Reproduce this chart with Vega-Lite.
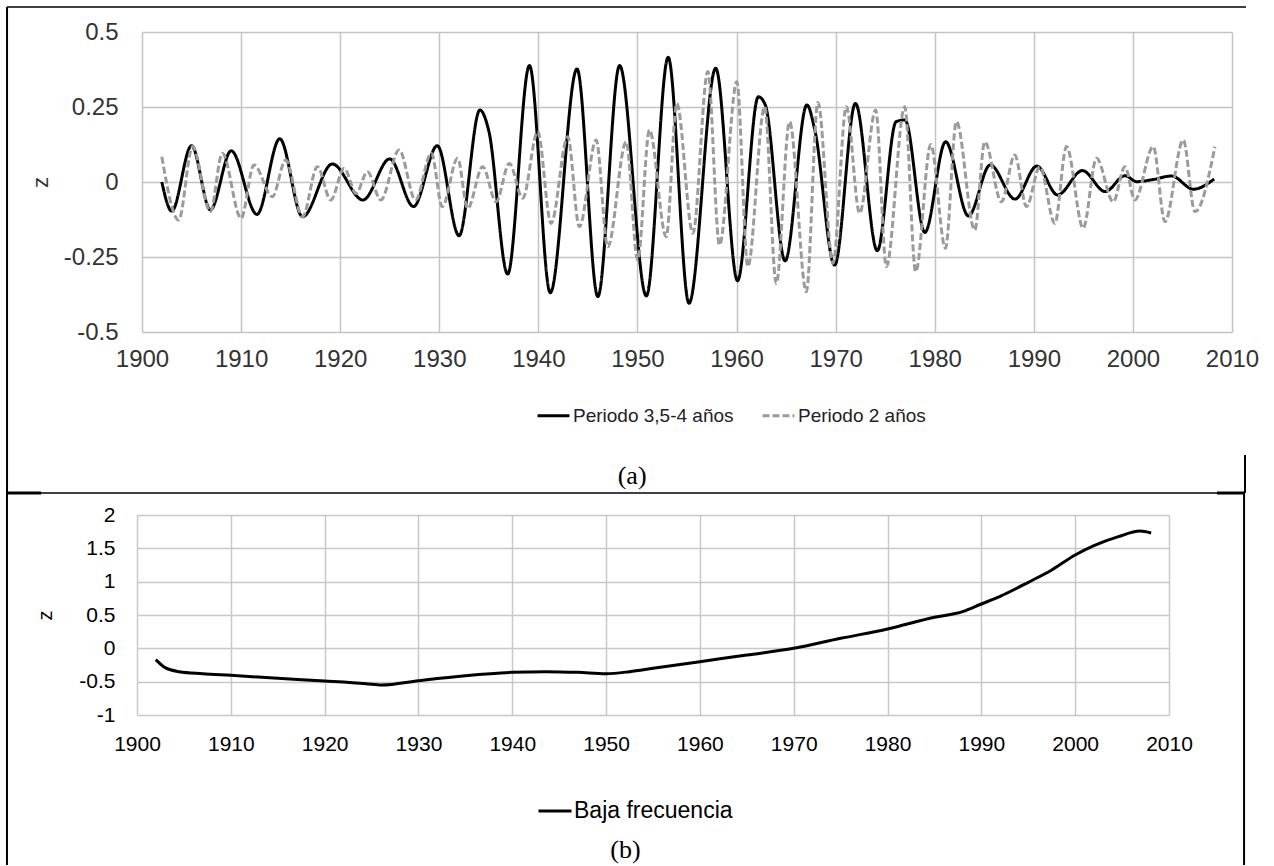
{
  "$schema": "https://vega.github.io/schema/vega-lite/v6.json",
  "background": "white",
  "padding": {"left": 5, "top": 6, "right": 5, "bottom": 0},
  "columns": 1,
  "align": "none",
  "spacing": -4,
  "config": {"view": {"stroke": null}, "font": "Liberation Sans"},
  "resolve": {
    "scale": {"x": "independent", "y": "independent", "color": "independent", "strokeDash": "independent"},
    "legend": {"color": "independent", "strokeDash": "independent"}
  },
  "datasets": {
    "osc": [
      {"year": 1902.0, "z": 0.0, "serie": "Periodo 3,5-4 años"},
      {"year": 1903.0, "z": -0.097, "serie": "Periodo 3,5-4 años"},
      {"year": 1905.0, "z": 0.121, "serie": "Periodo 3,5-4 años"},
      {"year": 1906.9, "z": -0.093, "serie": "Periodo 3,5-4 años"},
      {"year": 1909.0, "z": 0.104, "serie": "Periodo 3,5-4 años"},
      {"year": 1911.6, "z": -0.108, "serie": "Periodo 3,5-4 años"},
      {"year": 1913.9, "z": 0.144, "serie": "Periodo 3,5-4 años"},
      {"year": 1916.2, "z": -0.116, "serie": "Periodo 3,5-4 años"},
      {"year": 1919.2, "z": 0.06, "serie": "Periodo 3,5-4 años"},
      {"year": 1922.3, "z": -0.06, "serie": "Periodo 3,5-4 años"},
      {"year": 1925.0, "z": 0.077, "serie": "Periodo 3,5-4 años"},
      {"year": 1927.4, "z": -0.082, "serie": "Periodo 3,5-4 años"},
      {"year": 1929.8, "z": 0.121, "serie": "Periodo 3,5-4 años"},
      {"year": 1932.0, "z": -0.179, "serie": "Periodo 3,5-4 años"},
      {"year": 1934.1, "z": 0.24, "serie": "Periodo 3,5-4 años"},
      {"year": 1935.0, "z": 0.17, "serie": "Periodo 3,5-4 años"},
      {"year": 1936.9, "z": -0.307, "serie": "Periodo 3,5-4 años"},
      {"year": 1939.1, "z": 0.388, "serie": "Periodo 3,5-4 años"},
      {"year": 1941.2, "z": -0.369, "serie": "Periodo 3,5-4 años"},
      {"year": 1943.9, "z": 0.377, "serie": "Periodo 3,5-4 años"},
      {"year": 1946.0, "z": -0.382, "serie": "Periodo 3,5-4 años"},
      {"year": 1948.2, "z": 0.388, "serie": "Periodo 3,5-4 años"},
      {"year": 1950.9, "z": -0.38, "serie": "Periodo 3,5-4 años"},
      {"year": 1953.1, "z": 0.416, "serie": "Periodo 3,5-4 años"},
      {"year": 1955.2, "z": -0.404, "serie": "Periodo 3,5-4 años"},
      {"year": 1957.9, "z": 0.379, "serie": "Periodo 3,5-4 años"},
      {"year": 1960.1, "z": -0.329, "serie": "Periodo 3,5-4 años"},
      {"year": 1962.2, "z": 0.284, "serie": "Periodo 3,5-4 años"},
      {"year": 1962.9, "z": 0.257, "serie": "Periodo 3,5-4 años"},
      {"year": 1964.9, "z": -0.263, "serie": "Periodo 3,5-4 años"},
      {"year": 1967.1, "z": 0.257, "serie": "Periodo 3,5-4 años"},
      {"year": 1967.9, "z": 0.173, "serie": "Periodo 3,5-4 años"},
      {"year": 1969.9, "z": -0.277, "serie": "Periodo 3,5-4 años"},
      {"year": 1972.0, "z": 0.262, "serie": "Periodo 3,5-4 años"},
      {"year": 1974.2, "z": -0.229, "serie": "Periodo 3,5-4 años"},
      {"year": 1976.1, "z": 0.201, "serie": "Periodo 3,5-4 años"},
      {"year": 1977.0, "z": 0.207, "serie": "Periodo 3,5-4 años"},
      {"year": 1979.0, "z": -0.168, "serie": "Periodo 3,5-4 años"},
      {"year": 1981.1, "z": 0.134, "serie": "Periodo 3,5-4 años"},
      {"year": 1983.4, "z": -0.113, "serie": "Periodo 3,5-4 años"},
      {"year": 1985.6, "z": 0.057, "serie": "Periodo 3,5-4 años"},
      {"year": 1988.1, "z": -0.057, "serie": "Periodo 3,5-4 años"},
      {"year": 1990.3, "z": 0.053, "serie": "Periodo 3,5-4 años"},
      {"year": 1992.4, "z": -0.043, "serie": "Periodo 3,5-4 años"},
      {"year": 1994.9, "z": 0.038, "serie": "Periodo 3,5-4 años"},
      {"year": 1997.2, "z": -0.032, "serie": "Periodo 3,5-4 años"},
      {"year": 1999.2, "z": 0.021, "serie": "Periodo 3,5-4 años"},
      {"year": 2000.4, "z": 0.001, "serie": "Periodo 3,5-4 años"},
      {"year": 2002.0, "z": 0.008, "serie": "Periodo 3,5-4 años"},
      {"year": 2003.9, "z": 0.02, "serie": "Periodo 3,5-4 años"},
      {"year": 2006.1, "z": -0.024, "serie": "Periodo 3,5-4 años"},
      {"year": 2008.2, "z": 0.01, "serie": "Periodo 3,5-4 años"},

      {"year": 1902.0, "z": 0.084, "serie": "Periodo 2 años"},
      {"year": 1903.7, "z": -0.127, "serie": "Periodo 2 años"},
      {"year": 1905.1, "z": 0.118, "serie": "Periodo 2 años"},
      {"year": 1906.9, "z": -0.099, "serie": "Periodo 2 años"},
      {"year": 1908.1, "z": 0.096, "serie": "Periodo 2 años"},
      {"year": 1910.0, "z": -0.121, "serie": "Periodo 2 años"},
      {"year": 1911.3, "z": 0.057, "serie": "Periodo 2 años"},
      {"year": 1913.15, "z": -0.049, "serie": "Periodo 2 años"},
      {"year": 1914.5, "z": 0.073, "serie": "Periodo 2 años"},
      {"year": 1916.2, "z": -0.116, "serie": "Periodo 2 años"},
      {"year": 1917.7, "z": 0.051, "serie": "Periodo 2 años"},
      {"year": 1919.05, "z": -0.06, "serie": "Periodo 2 años"},
      {"year": 1920.4, "z": 0.046, "serie": "Periodo 2 años"},
      {"year": 1921.6, "z": -0.038, "serie": "Periodo 2 años"},
      {"year": 1922.75, "z": 0.034, "serie": "Periodo 2 años"},
      {"year": 1924.1, "z": -0.06, "serie": "Periodo 2 años"},
      {"year": 1925.95, "z": 0.107, "serie": "Periodo 2 años"},
      {"year": 1927.6, "z": -0.06, "serie": "Periodo 2 años"},
      {"year": 1929.2, "z": 0.096, "serie": "Periodo 2 años"},
      {"year": 1930.3, "z": -0.082, "serie": "Periodo 2 años"},
      {"year": 1931.85, "z": 0.079, "serie": "Periodo 2 años"},
      {"year": 1932.86, "z": -0.088, "serie": "Periodo 2 años"},
      {"year": 1934.38, "z": 0.051, "serie": "Periodo 2 años"},
      {"year": 1935.73, "z": -0.066, "serie": "Periodo 2 años"},
      {"year": 1937.07, "z": 0.062, "serie": "Periodo 2 años"},
      {"year": 1938.42, "z": -0.054, "serie": "Periodo 2 años"},
      {"year": 1939.93, "z": 0.168, "serie": "Periodo 2 años"},
      {"year": 1941.28, "z": -0.138, "serie": "Periodo 2 años"},
      {"year": 1942.96, "z": 0.151, "serie": "Periodo 2 años"},
      {"year": 1944.14, "z": -0.149, "serie": "Periodo 2 años"},
      {"year": 1945.83, "z": 0.14, "serie": "Periodo 2 años"},
      {"year": 1947.0, "z": -0.216, "serie": "Periodo 2 años"},
      {"year": 1948.86, "z": 0.134, "serie": "Periodo 2 años"},
      {"year": 1950.03, "z": -0.26, "serie": "Periodo 2 años"},
      {"year": 1951.21, "z": 0.173, "serie": "Periodo 2 años"},
      {"year": 1952.9, "z": -0.182, "serie": "Periodo 2 años"},
      {"year": 1953.97, "z": 0.262, "serie": "Periodo 2 años"},
      {"year": 1955.59, "z": -0.171, "serie": "Periodo 2 años"},
      {"year": 1957.1, "z": 0.368, "serie": "Periodo 2 años"},
      {"year": 1958.28, "z": -0.21, "serie": "Periodo 2 años"},
      {"year": 1960.03, "z": 0.334, "serie": "Periodo 2 años"},
      {"year": 1961.14, "z": -0.282, "serie": "Periodo 2 años"},
      {"year": 1962.83, "z": 0.251, "serie": "Periodo 2 años"},
      {"year": 1964.01, "z": -0.338, "serie": "Periodo 2 años"},
      {"year": 1965.35, "z": 0.201, "serie": "Periodo 2 años"},
      {"year": 1967.04, "z": -0.366, "serie": "Periodo 2 años"},
      {"year": 1968.21, "z": 0.265, "serie": "Periodo 2 años"},
      {"year": 1969.73, "z": -0.271, "serie": "Periodo 2 años"},
      {"year": 1971.08, "z": 0.251, "serie": "Periodo 2 años"},
      {"year": 1972.42, "z": -0.104, "serie": "Periodo 2 años"},
      {"year": 1974.04, "z": 0.24, "serie": "Periodo 2 años"},
      {"year": 1975.12, "z": -0.282, "serie": "Periodo 2 años"},
      {"year": 1976.97, "z": 0.251, "serie": "Periodo 2 años"},
      {"year": 1978.08, "z": -0.299, "serie": "Periodo 2 años"},
      {"year": 1979.6, "z": 0.125, "serie": "Periodo 2 años"},
      {"year": 1981.08, "z": -0.221, "serie": "Periodo 2 años"},
      {"year": 1982.19, "z": 0.201, "serie": "Periodo 2 años"},
      {"year": 1984.04, "z": -0.16, "serie": "Periodo 2 años"},
      {"year": 1985.05, "z": 0.134, "serie": "Periodo 2 años"},
      {"year": 1986.73, "z": -0.066, "serie": "Periodo 2 años"},
      {"year": 1988.08, "z": 0.09, "serie": "Periodo 2 años"},
      {"year": 1989.26, "z": -0.082, "serie": "Periodo 2 años"},
      {"year": 1990.61, "z": 0.051, "serie": "Periodo 2 años"},
      {"year": 1992.12, "z": -0.138, "serie": "Periodo 2 años"},
      {"year": 1993.3, "z": 0.118, "serie": "Periodo 2 años"},
      {"year": 1994.98, "z": -0.154, "serie": "Periodo 2 años"},
      {"year": 1996.33, "z": 0.079, "serie": "Periodo 2 años"},
      {"year": 1998.01, "z": -0.066, "serie": "Periodo 2 años"},
      {"year": 1999.19, "z": 0.051, "serie": "Periodo 2 años"},
      {"year": 2000.2, "z": -0.06, "serie": "Periodo 2 años"},
      {"year": 2002.05, "z": 0.118, "serie": "Periodo 2 años"},
      {"year": 2003.23, "z": -0.132, "serie": "Periodo 2 años"},
      {"year": 2005.08, "z": 0.14, "serie": "Periodo 2 años"},
      {"year": 2006.26, "z": -0.099, "serie": "Periodo 2 años"},
      {"year": 2008.28, "z": 0.118, "serie": "Periodo 2 años"}
    ],
    "low": [
      {"year": 1902.0, "z": -0.17, "serie": "Baja frecuencia"},
      {"year": 1903.0, "z": -0.29, "serie": "Baja frecuencia"},
      {"year": 1904.5, "z": -0.35, "serie": "Baja frecuencia"},
      {"year": 1907.0, "z": -0.38, "serie": "Baja frecuencia"},
      {"year": 1910.0, "z": -0.405, "serie": "Baja frecuencia"},
      {"year": 1915.0, "z": -0.45, "serie": "Baja frecuencia"},
      {"year": 1920.0, "z": -0.49, "serie": "Baja frecuencia"},
      {"year": 1924.4, "z": -0.53, "serie": "Baja frecuencia"},
      {"year": 1926.1, "z": -0.55, "serie": "Baja frecuencia"},
      {"year": 1930.0, "z": -0.485, "serie": "Baja frecuencia"},
      {"year": 1935.0, "z": -0.41, "serie": "Baja frecuencia"},
      {"year": 1940.0, "z": -0.36, "serie": "Baja frecuencia"},
      {"year": 1943.6, "z": -0.35, "serie": "Baja frecuencia"},
      {"year": 1947.0, "z": -0.36, "serie": "Baja frecuencia"},
      {"year": 1950.0, "z": -0.38, "serie": "Baja frecuencia"},
      {"year": 1952.5, "z": -0.35, "serie": "Baja frecuencia"},
      {"year": 1955.0, "z": -0.3, "serie": "Baja frecuencia"},
      {"year": 1960.0, "z": -0.2, "serie": "Baja frecuencia"},
      {"year": 1965.0, "z": -0.1, "serie": "Baja frecuencia"},
      {"year": 1970.0, "z": 0.0, "serie": "Baja frecuencia"},
      {"year": 1975.0, "z": 0.15, "serie": "Baja frecuencia"},
      {"year": 1980.0, "z": 0.29, "serie": "Baja frecuencia"},
      {"year": 1985.0, "z": 0.465, "serie": "Baja frecuencia"},
      {"year": 1988.0, "z": 0.55, "serie": "Baja frecuencia"},
      {"year": 1990.0, "z": 0.665, "serie": "Baja frecuencia"},
      {"year": 1992.0, "z": 0.78, "serie": "Baja frecuencia"},
      {"year": 1995.0, "z": 0.99, "serie": "Baja frecuencia"},
      {"year": 1997.5, "z": 1.175, "serie": "Baja frecuencia"},
      {"year": 2000.0, "z": 1.4, "serie": "Baja frecuencia"},
      {"year": 2002.0, "z": 1.54, "serie": "Baja frecuencia"},
      {"year": 2004.6, "z": 1.675, "serie": "Baja frecuencia"},
      {"year": 2006.9, "z": 1.76, "serie": "Baja frecuencia"},
      {"year": 2008.1, "z": 1.73, "serie": "Baja frecuencia"}
    ]
  },
  "concat": [
    {
      "width": 1090,
      "height": 300,
      "title": {"text": "(a)", "orient": "bottom", "anchor": "middle", "frame": "bounds", "font": "Liberation Serif", "fontSize": 26, "fontWeight": "normal", "color": "black", "offset": -32},
      "layer": [
        {
          "data": {"name": "osc"},
          "transform": [{"filter": "datum.serie == 'Periodo 3,5-4 años'"}],
          "mark": {"type": "line", "strokeWidth": 3, "interpolate": "monotone"},
          "encoding": {
            "x": {"field": "year", "type": "quantitative", "scale": {"domain": [1900, 2010], "nice": false, "zero": false},
              "axis": {"values": [1900, 1910, 1920, 1930, 1940, 1950, 1960, 1970, 1980, 1990, 2000, 2010], "tickCount": 12, "format": "d", "title": null, "grid": true, "gridColor": "#c4c4c4", "gridWidth": 1.5, "domain": false, "ticks": false, "labelFont": "Liberation Sans", "labelFontSize": 24, "labelColor": "#333333", "labelPadding": 15, "labelFlush": false, "labelOverlap": false}},
            "y": {"field": "z", "type": "quantitative", "scale": {"domain": [-0.5, 0.5], "nice": false, "zero": false},
              "axis": {"values": [-0.5, -0.25, 0, 0.25, 0.5], "tickCount": 5, "labelExpr": "'' + datum.value", "title": "z", "titleFont": "Liberation Sans", "titleFontSize": 22, "titleFontWeight": "normal", "titleColor": "#333333", "titlePadding": 11, "grid": true, "gridColor": "#c4c4c4", "gridWidth": 1.5, "domain": false, "ticks": false, "labelFont": "Liberation Sans", "labelFontSize": 24, "labelColor": "#333333", "labelPadding": 24, "labelOverlap": false}},
            "color": {"field": "serie", "type": "nominal", "scale": {"domain": ["Periodo 3,5-4 años", "Periodo 2 años"], "range": ["#000000", "#9b9b9b"]},
              "legend": {"title": null, "orient": "none", "legendX": 394, "legendY": 366, "direction": "horizontal", "symbolType": "stroke", "symbolSize": 1024, "symbolStrokeWidth": 3, "labelFont": "Liberation Sans", "labelFontSize": 19, "labelColor": "#222222", "labelOffset": 2, "labelLimit": 400, "columnPadding": 22, "padding": 0}},
            "strokeDash": {"field": "serie", "type": "nominal", "scale": {"domain": ["Periodo 3,5-4 años", "Periodo 2 años"], "range": [[1, 0], [7, 3]]},
              "legend": {"title": null, "orient": "none", "legendX": 394, "legendY": 366, "direction": "horizontal", "symbolType": "stroke", "symbolSize": 1024, "symbolStrokeWidth": 3, "labelFont": "Liberation Sans", "labelFontSize": 19, "labelColor": "#222222", "labelOffset": 2, "labelLimit": 400, "columnPadding": 22, "padding": 0}}
          }
        },
        {
          "data": {"name": "osc"},
          "transform": [{"filter": "datum.serie == 'Periodo 2 años'"}],
          "mark": {"type": "line", "strokeWidth": 3, "interpolate": "monotone"},
          "encoding": {
            "x": {"field": "year", "type": "quantitative"},
            "y": {"field": "z", "type": "quantitative"},
            "color": {"field": "serie", "type": "nominal"},
            "strokeDash": {"field": "serie", "type": "nominal"}
          }
        },
        {
          "data": {"values": [{}]},
          "mark": {"type": "rule", "color": "black", "strokeWidth": 1.5},
          "encoding": {"x": {"datum": 1886.38, "type": "quantitative"}, "x2": {"datum": 2011.41}, "y": {"datum": 0.5833, "type": "quantitative"}}
        },
        {
          "data": {"values": [{}]},
          "mark": {"type": "rule", "color": "black", "strokeWidth": 2},
          "encoding": {"x": {"datum": 1886.38, "type": "quantitative"}, "y": {"datum": 0.5833, "type": "quantitative"}, "y2": {"datum": -1.0367}}
        },
        {
          "data": {"values": [{}]},
          "mark": {"type": "rule", "color": "black", "strokeWidth": 1.5},
          "encoding": {"x": {"datum": 1886.38, "type": "quantitative"}, "x2": {"datum": 2011.31}, "y": {"datum": -1.0367, "type": "quantitative"}}
        },
        {
          "data": {"values": [{}]},
          "mark": {"type": "rule", "color": "black", "strokeWidth": 3},
          "encoding": {"x": {"datum": 1886.38, "type": "quantitative"}, "x2": {"datum": 1889.81}, "y": {"datum": -1.0367, "type": "quantitative"}}
        },
        {
          "data": {"values": [{}]},
          "mark": {"type": "rule", "color": "black", "strokeWidth": 3},
          "encoding": {"x": {"datum": 2008.49, "type": "quantitative"}, "x2": {"datum": 2011.31}, "y": {"datum": -1.0367, "type": "quantitative"}}
        },
        {
          "data": {"values": [{}]},
          "mark": {"type": "rule", "color": "black", "strokeWidth": 2},
          "encoding": {"x": {"datum": 2011.31, "type": "quantitative"}, "y": {"datum": -0.91, "type": "quantitative"}, "y2": {"datum": -1.0367}}
        }
      ]
    },
    {
      "width": 1032,
      "height": 200,
      "title": {"text": "(b)", "orient": "bottom", "anchor": "middle", "frame": "bounds", "font": "Liberation Serif", "fontSize": 26, "fontWeight": "normal", "color": "black", "offset": -29},
      "layer": [
        {
          "data": {"name": "low"},
          "mark": {"type": "line", "strokeWidth": 3, "interpolate": "monotone"},
          "encoding": {
            "x": {"field": "year", "type": "quantitative", "scale": {"domain": [1900, 2010], "range": [-5, 1027], "nice": false, "zero": false},
              "axis": {"values": [1900, 1910, 1920, 1930, 1940, 1950, 1960, 1970, 1980, 1990, 2000, 2010], "tickCount": 12, "format": "d", "title": null, "grid": true, "gridColor": "#c8c8c8", "gridWidth": 1.5, "domain": false, "ticks": false, "labelFont": "Liberation Sans", "labelFontSize": 21, "labelColor": "#000000", "labelPadding": 18, "labelFlush": false, "labelOverlap": false}},
            "y": {"field": "z", "type": "quantitative", "scale": {"domain": [-1, 2], "nice": false, "zero": false},
              "axis": {"values": [-1, -0.5, 0, 0.5, 1, 1.5, 2], "tickCount": 7, "labelExpr": "'' + datum.value", "title": "z", "titleFont": "Liberation Sans", "titleFontSize": 20, "titleFontWeight": "normal", "titleColor": "#000000", "titlePadding": 23, "grid": true, "gridColor": "#c8c8c8", "gridWidth": 1.5, "domain": false, "ticks": false, "labelFont": "Liberation Sans", "labelFontSize": 21, "labelColor": "#000000", "labelPadding": 27, "labelOverlap": false}},
            "color": {"field": "serie", "type": "nominal", "scale": {"domain": ["Baja frecuencia"], "range": ["#000000"]},
              "legend": {"title": null, "orient": "none", "legendX": 395, "legendY": 278, "direction": "horizontal", "symbolType": "stroke", "symbolSize": 1089, "symbolStrokeWidth": 3, "labelFont": "Liberation Sans", "labelFontSize": 23, "labelColor": "#000000", "labelOffset": 1, "labelLimit": 400, "padding": 0}}
          }
        },
        {
          "data": {"values": [{}]},
          "mark": {"type": "rule", "color": "black", "strokeWidth": 2},
          "encoding": {"x": {"datum": 1886.14, "type": "quantitative"}, "y": {"datum": 2.345, "type": "quantitative"}, "y2": {"datum": -3.25}}
        },
        {
          "data": {"values": [{}]},
          "mark": {"type": "rule", "color": "black", "strokeWidth": 2},
          "encoding": {"x": {"datum": 2018.0, "type": "quantitative"}, "y": {"datum": 2.345, "type": "quantitative"}, "y2": {"datum": -3.25}}
        }
      ]
    }
  ]
}
